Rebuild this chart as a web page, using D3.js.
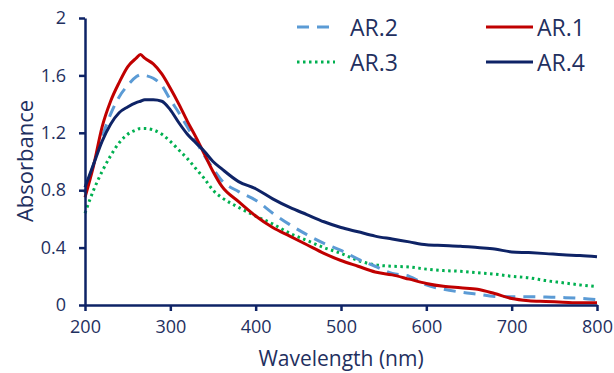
<!DOCTYPE html>
<html>
<head>
<meta charset="utf-8">
<script src="https://cdn.jsdelivr.net/npm/d3@7"></script>
<style>
  body { margin: 0; background: #fff; }
  svg text { font-family: "Open Sans", sans-serif; fill: #1f3060; }
</style>
</head>
<body>
<svg width="614" height="373"></svg>
<script>
const wavelength = [200, 210, 220, 230, 240, 250, 260, 265, 270, 280, 290, 300, 310, 320, 330, 340, 350, 360,
  380, 400, 420, 440, 460, 480, 500, 520, 540, 560, 580, 600, 620, 640, 660, 680, 700, 720, 740, 760, 780, 800];
const ar1 = [0.75, 0.97, 1.24, 1.42, 1.55, 1.66, 1.72, 1.745, 1.72, 1.68, 1.61, 1.51, 1.40, 1.28, 1.17, 1.05, 0.93, 0.83,
  0.72, 0.62, 0.54, 0.48, 0.42, 0.36, 0.31, 0.27, 0.23, 0.21, 0.18, 0.15, 0.13, 0.12, 0.11, 0.08, 0.045, 0.03, 0.025, 0.02, 0.015, 0.015];
const ar2 = [0.78, 0.98, 1.17, 1.33, 1.45, 1.53, 1.59, 1.605, 1.60, 1.58, 1.53, 1.43, 1.34, 1.24, 1.14, 1.04, 0.95, 0.87,
  0.79, 0.73, 0.64, 0.56, 0.49, 0.43, 0.38, 0.32, 0.27, 0.22, 0.20, 0.14, 0.11, 0.09, 0.075, 0.06, 0.058, 0.058, 0.055, 0.052, 0.047, 0.038];
const ar3 = [0.64, 0.80, 0.93, 1.04, 1.13, 1.19, 1.22, 1.23, 1.23, 1.22, 1.19, 1.14, 1.08, 1.02, 0.95, 0.88, 0.80, 0.75,
  0.68, 0.62, 0.565, 0.50, 0.45, 0.40, 0.36, 0.31, 0.28, 0.27, 0.265, 0.25, 0.24, 0.235, 0.225, 0.215, 0.20, 0.19, 0.17, 0.155, 0.14, 0.128];
const ar4 = [0.82, 0.98, 1.14, 1.26, 1.34, 1.38, 1.41, 1.42, 1.43, 1.43, 1.42, 1.36, 1.27, 1.19, 1.13, 1.07, 1.00, 0.95,
  0.86, 0.81, 0.74, 0.68, 0.63, 0.58, 0.54, 0.51, 0.48, 0.46, 0.44, 0.42, 0.415, 0.41, 0.40, 0.39, 0.37, 0.365, 0.358, 0.35, 0.345, 0.337];
const xTicks = [200, 300, 400, 500, 600, 700, 800];
const yTicks = [0, 0.4, 0.8, 1.2, 1.6, 2];

const axisColor = "#0e2366";
const svg = d3.select("svg");

const x = d3.scaleLinear().domain([200, 800]).range([85, 597]);
const y = d3.scaleLinear().domain([0, 2]).range([305, 18]);

const series = [
  { name: "AR.2", values: ar2, color: "#5b9bd5", dash: "12,8" },
  { name: "AR.3", values: ar3, color: "#00b050", dash: "2.5,3.5" },
  { name: "AR.1", values: ar1, color: "#c00000", dash: null },
  { name: "AR.4", values: ar4, color: "#0e2366", dash: null }
];

const line = d3.line()
  .x((d, i) => x(wavelength[i]))
  .y(d => y(d))
  .curve(d3.curveMonotoneX);

// draw order: dotted, dashed, red, navy
const drawOrder = ["AR.3", "AR.2", "AR.1", "AR.4"];
drawOrder.forEach(n => {
  const s = series.find(d => d.name === n);
  svg.append("path")
    .attr("d", line(s.values))
    .attr("fill", "none")
    .attr("stroke", s.color)
    .attr("stroke-width", 3)
    .attr("stroke-dasharray", s.dash)
    .attr("stroke-linejoin", "round");
});

const xAxis = svg.append("g")
  .attr("transform", `translate(0, ${y(0)})`)
  .call(d3.axisBottom(x).tickValues(xTicks).tickSize(6).tickPadding(9).tickSizeOuter(0));
const yAxis = svg.append("g")
  .attr("transform", `translate(${x(200)}, 0)`)
  .call(d3.axisLeft(y).tickValues(yTicks).tickSize(6).tickPadding(13).tickSizeOuter(0)
    .tickFormat(d3.format("")));

[xAxis, yAxis].forEach(a => {
  a.select(".domain").attr("stroke", axisColor).attr("stroke-width", 2.5);
  a.selectAll(".tick line").attr("stroke", axisColor).attr("stroke-width", 2.5);
  a.selectAll(".tick text").attr("font-size", 18).attr("fill", "#1f3060");
});

svg.append("text")
  .attr("x", 341).attr("y", 366)
  .attr("text-anchor", "middle")
  .attr("font-size", 21)
  .text("Wavelength (nm)");

svg.append("text")
  .attr("transform", "translate(33, 161) rotate(-90)")
  .attr("text-anchor", "middle")
  .attr("font-size", 22)
  .text("Absorbance");

// legend
const legendPos = [
  { name: "AR.2", x1: 297, x2: 335, tx: 350, y: 27 },
  { name: "AR.3", x1: 297, x2: 335, tx: 350, y: 62 },
  { name: "AR.1", x1: 486, x2: 533, tx: 537, y: 27 },
  { name: "AR.4", x1: 486, x2: 533, tx: 537, y: 62 }
];
legendPos.forEach(p => {
  const s = series.find(d => d.name === p.name);
  svg.append("line")
    .attr("x1", p.x1).attr("x2", p.x2)
    .attr("y1", p.y).attr("y2", p.y)
    .attr("stroke", s.color)
    .attr("stroke-width", 3)
    .attr("stroke-dasharray", s.dash);
  svg.append("text")
    .attr("x", p.tx).attr("y", p.y + 9)
    .attr("font-size", 23)
    .text(s.name);
});
</script>
</body>
</html>
